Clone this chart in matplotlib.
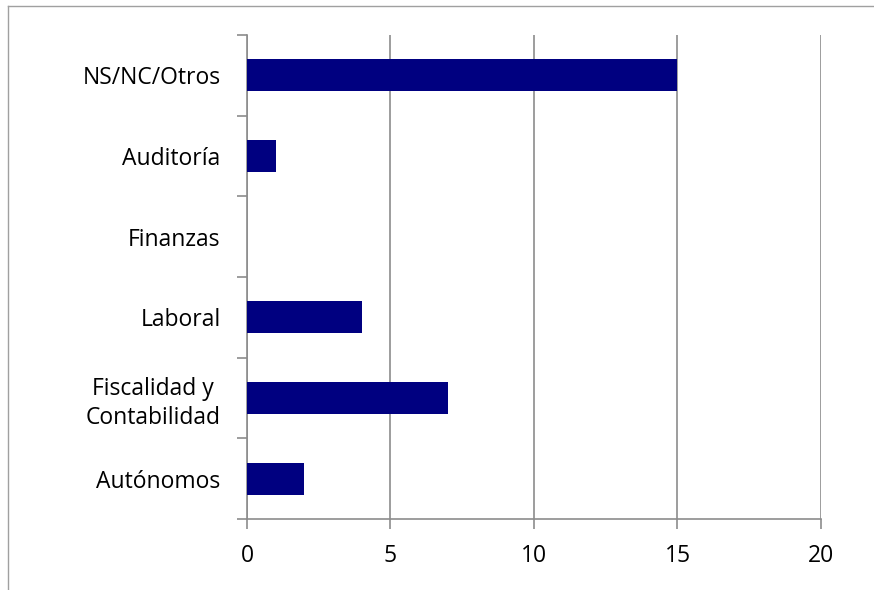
import numpy as np
import matplotlib.pyplot as plt
from matplotlib.lines import Line2D

# Datos
categorias = ['Autónomos', 'Fiscalidad y\nContabilidad', 'Laboral', 'Finanzas', 'Auditoría', 'NS/NC/Otros']
valores = [2, 7, 4, 0, 1, 15]
xticks = [0, 5, 10, 15, 20]

plt.rcParams['font.family'] = ['Open Sans', 'DejaVu Sans']
gris = '#8c8c8c'
fs = 16.5

fig = plt.figure(figsize=(8.74, 5.90), dpi=100)
ax = fig.add_axes([247 / 874, 1 - 519 / 590, (821 - 247) / 874, (519 - 35) / 590])

y = np.arange(len(categorias))
ax.barh(y, valores, height=0.4, color='#000080', zorder=3)

ax.set_xlim(0, 20)
ax.set_ylim(-0.5, len(categorias) - 0.5)
ax.set_xticks(xticks)
ax.set_xticklabels([str(v) for v in xticks], fontsize=fs)
ax.grid(axis='x', color=gris, linewidth=1.2, zorder=0)

# ticks de categoría en los bordes, etiquetas en el centro
ax.set_yticks(np.arange(-0.5, len(categorias), 1.0))
ax.set_yticklabels([])
ax.set_yticks(y, minor=True)
ax.set_yticklabels(categorias, minor=True, fontsize=fs, multialignment='center',
                   linespacing=1.3)
ax.tick_params(axis='y', which='minor', length=0, pad=19)
ax.tick_params(axis='y', which='major', length=7, color=gris, width=1.2)
ax.tick_params(axis='x', length=7, color=gris, width=1.2, pad=11)

for s in ['top', 'right']:
    ax.spines[s].set_visible(False)
for s in ['left', 'bottom']:
    ax.spines[s].set_color(gris)
    ax.spines[s].set_linewidth(1.2)

# marco del gráfico
fig.add_artist(Line2D([8 / 874, 8 / 874], [0, 1 - 6 / 590], color='#a0a0a0', linewidth=1))
fig.add_artist(Line2D([8 / 874, 1], [1 - 6 / 590, 1 - 6 / 590], color='#a0a0a0', linewidth=1))

fig.savefig('out.png', dpi=100)
